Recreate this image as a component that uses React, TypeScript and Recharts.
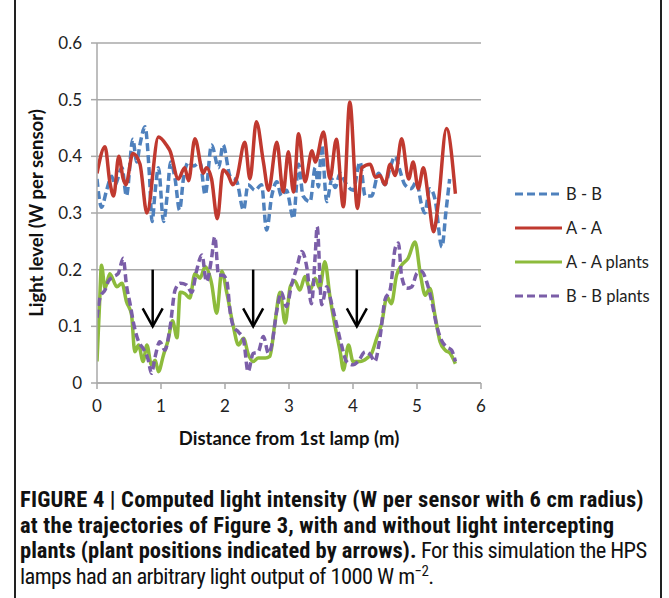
import React from 'react';
import { LineChart, Line, XAxis, YAxis, CartesianGrid, ReferenceLine, Label } from 'recharts';

const xTicks = [0, 1, 2, 3, 4, 5, 6];
const yTicks = [0, 0.1, 0.2, 0.3, 0.4, 0.5, 0.6];
const arrowX = [0.87, 2.44, 4.06];
const arrowTop = 0.2;
const arrowBottom = 0.1;

const bbPoints: number[][] = [
  [0, 0.36], [0.03, 0.33], [0.07, 0.31], [0.15, 0.34], [0.23, 0.365], [0.28, 0.35], [0.39, 0.38], [0.46, 0.33],
  [0.56, 0.43], [0.62, 0.39], [0.67, 0.42], [0.75, 0.452], [0.82, 0.365], [0.86, 0.285], [0.91, 0.34], [0.96, 0.38],
  [1.04, 0.285], [1.1, 0.335], [1.15, 0.39], [1.22, 0.36], [1.29, 0.305], [1.35, 0.36], [1.43, 0.39], [1.51, 0.383],
  [1.61, 0.39], [1.69, 0.332], [1.79, 0.42], [1.9, 0.38], [1.97, 0.42], [2.08, 0.365], [2.18, 0.357], [2.29, 0.305],
  [2.36, 0.35], [2.47, 0.34], [2.57, 0.35], [2.65, 0.27], [2.73, 0.33], [2.81, 0.355], [2.88, 0.33], [2.96, 0.34],
  [3.07, 0.29], [3.15, 0.386], [3.22, 0.33], [3.33, 0.32], [3.41, 0.38], [3.46, 0.346], [3.51, 0.42], [3.59, 0.32],
  [3.67, 0.36], [3.72, 0.345], [3.8, 0.37], [3.9, 0.35], [4.0, 0.34], [4.11, 0.39], [4.19, 0.33], [4.29, 0.33],
  [4.4, 0.37], [4.5, 0.35], [4.58, 0.38], [4.66, 0.4], [4.73, 0.376], [4.81, 0.35], [4.91, 0.343], [4.99, 0.355],
  [5.07, 0.315], [5.12, 0.3], [5.2, 0.343], [5.28, 0.325], [5.39, 0.24], [5.45, 0.3], [5.51, 0.36],
];

const aaPoints: number[][] = [
  [0, 0.37], [0.125, 0.417], [0.2, 0.355], [0.26, 0.33], [0.34, 0.4], [0.41, 0.36], [0.45, 0.35], [0.56, 0.405],
  [0.67, 0.387], [0.78, 0.3], [0.96, 0.434], [1.09, 0.419], [1.14, 0.41], [1.27, 0.36], [1.37, 0.38], [1.43, 0.357],
  [1.53, 0.431], [1.66, 0.37], [1.71, 0.38], [1.79, 0.36], [1.88, 0.29], [1.97, 0.376], [2.05, 0.367], [2.12, 0.35],
  [2.18, 0.36], [2.31, 0.425], [2.39, 0.36], [2.49, 0.461], [2.6, 0.39], [2.68, 0.34], [2.81, 0.425], [2.91, 0.337],
  [2.99, 0.408], [3.07, 0.337], [3.15, 0.44], [3.25, 0.355], [3.36, 0.41], [3.41, 0.39], [3.54, 0.443], [3.64, 0.36],
  [3.74, 0.43], [3.85, 0.311], [3.95, 0.496], [4.07, 0.308], [4.14, 0.38], [4.27, 0.386], [4.35, 0.363], [4.42, 0.366],
  [4.5, 0.35], [4.58, 0.386], [4.66, 0.366], [4.76, 0.431], [4.87, 0.36], [4.94, 0.39], [5.02, 0.343], [5.1, 0.38],
  [5.18, 0.325], [5.26, 0.267], [5.33, 0.315], [5.46, 0.449], [5.6, 0.334],
];

const apPoints: number[][] = [
  [0, 0.038], [0.04, 0.14], [0.07, 0.208], [0.125, 0.167], [0.2, 0.193], [0.31, 0.17], [0.39, 0.176], [0.46, 0.144],
  [0.54, 0.12], [0.59, 0.055], [0.65, 0.067], [0.72, 0.038], [0.78, 0.067], [0.85, 0.032], [0.91, 0.04], [0.96, 0.02],
  [1.04, 0.05], [1.11, 0.075], [1.18, 0.11], [1.25, 0.08], [1.3, 0.16], [1.37, 0.158], [1.45, 0.15], [1.53, 0.193],
  [1.61, 0.185], [1.69, 0.205], [1.79, 0.176], [1.87, 0.123], [1.95, 0.197], [2.03, 0.158], [2.13, 0.1], [2.21, 0.067],
  [2.29, 0.079], [2.36, 0.052], [2.44, 0.038], [2.52, 0.044], [2.63, 0.044], [2.7, 0.047], [2.78, 0.106], [2.86, 0.16],
  [2.94, 0.106], [3.02, 0.17], [3.09, 0.18], [3.17, 0.164], [3.25, 0.188], [3.33, 0.164], [3.41, 0.185], [3.48, 0.167],
  [3.56, 0.214], [3.64, 0.152], [3.72, 0.1], [3.8, 0.055], [3.85, 0.023], [3.93, 0.067], [4.0, 0.038], [4.11, 0.038],
  [4.22, 0.044], [4.29, 0.052], [4.37, 0.079], [4.45, 0.106], [4.53, 0.152], [4.6, 0.14], [4.68, 0.19], [4.76, 0.208],
  [4.86, 0.22], [4.97, 0.249], [5.05, 0.194], [5.13, 0.155], [5.2, 0.167], [5.28, 0.12], [5.36, 0.073], [5.44, 0.058],
  [5.52, 0.052], [5.6, 0.034],
];

const bpPoints: number[][] = [
  [0, 0.115], [0.05, 0.152], [0.125, 0.164], [0.18, 0.18], [0.26, 0.188], [0.33, 0.193], [0.41, 0.22], [0.46, 0.173],
  [0.52, 0.138], [0.57, 0.106], [0.65, 0.073], [0.72, 0.061], [0.8, 0.041], [0.85, 0.017], [0.91, 0.047], [0.98, 0.073],
  [1.06, 0.058], [1.14, 0.097], [1.22, 0.164], [1.3, 0.176], [1.4, 0.173], [1.48, 0.16], [1.56, 0.2], [1.64, 0.226],
  [1.71, 0.179], [1.79, 0.22], [1.84, 0.258], [1.9, 0.19], [1.97, 0.19], [2.03, 0.179], [2.08, 0.126], [2.13, 0.1],
  [2.21, 0.09], [2.29, 0.076], [2.36, 0.02], [2.44, 0.052], [2.52, 0.055], [2.6, 0.082], [2.68, 0.052], [2.73, 0.067],
  [2.81, 0.128], [2.88, 0.16], [2.96, 0.135], [3.04, 0.173], [3.12, 0.203], [3.2, 0.232], [3.28, 0.203], [3.35, 0.14],
  [3.41, 0.226], [3.44, 0.276], [3.51, 0.138], [3.59, 0.17], [3.67, 0.138], [3.75, 0.1], [3.82, 0.067], [3.9, 0.038],
  [4.0, 0.032], [4.08, 0.038], [4.19, 0.055], [4.27, 0.05], [4.34, 0.038], [4.42, 0.079], [4.5, 0.147], [4.58, 0.164],
  [4.66, 0.238], [4.71, 0.247], [4.76, 0.188], [4.84, 0.167], [4.92, 0.17], [5.0, 0.194], [5.07, 0.197], [5.15, 0.179],
  [5.23, 0.144], [5.31, 0.1], [5.38, 0.076], [5.46, 0.064], [5.54, 0.058], [5.6, 0.038],
];

const seriesNames = ['B - B', 'A - A', 'A - A plants', 'B - B plants'];
const seriesPoints = [bbPoints, aaPoints, apPoints, bpPoints];
const seriesColors = ['#4f81bd', '#c0392f', '#8dbb3c', '#7b5ea8'];
const seriesDash = ['8 4', undefined, undefined, '8 4'];

const toData = (pts: number[][]) => pts.map(([x, y]) => ({ x, y }));

const FONT = 'Lato, "Open Sans", sans-serif';
const CAPTION_FONT = '"Liberation Sans Narrow", "Roboto Condensed", Roboto, sans-serif';

const ArrowShape = (props: any) => {
  const { x1, y1, x2, y2 } = props;
  if (x1 == null || y2 == null) return null;
  return (
    <g>
      <line x1={x1} y1={y1} x2={x2} y2={y2} stroke="#000" strokeWidth={2.5} />
      <polyline
        points={`${x2 - 10},${y2 - 18} ${x2},${y2} ${x2 + 10},${y2 - 18}`}
        fill="none"
        stroke="#000"
        strokeWidth={2.5}
      />
    </g>
  );
};

const LegendBox = () => (
  <svg width={150} height={130} style={{ position: 'absolute', left: 510, top: 178 }}>
    {seriesNames.map((name, i) => {
      const y = 16 + i * 34;
      return (
        <g key={name}>
          <line x1={5} y1={y} x2={52} y2={y} stroke={seriesColors[i]} strokeWidth={3} strokeDasharray={seriesDash[i]} />
          <text x={56} y={y + 6} fontFamily={FONT} fontSize={16.5} fill="#222">{name}</text>
        </g>
      );
    })}
  </svg>
);

const boldStyle = { fontWeight: 700, letterSpacing: '0.2px' };
const boldTightStyle = { fontWeight: 700, letterSpacing: '0px' };
const regStyle = { fontWeight: 400, letterSpacing: '-0.6px' };

export default function App() {
  return (
    <div style={{ position: 'absolute', left: 0, top: 0, width: 669, height: 598, background: '#fff', overflow: 'hidden' }}>
      <div style={{ position: 'absolute', left: 14, top: 0, width: 1.5, height: 598, background: '#222' }} />
      <div style={{ position: 'absolute', left: 660, top: 0, width: 1.5, height: 598, background: '#222' }} />
      <div style={{ position: 'absolute', left: 0, top: 0 }}>
        <LineChart width={669} height={470} margin={{ top: 43, right: 188, bottom: 22, left: 27 }}>
          <CartesianGrid horizontal vertical={false} stroke="#a8a8a8" strokeWidth={1.5} />
          <XAxis
            type="number"
            dataKey="x"
            domain={[0, 6]}
            ticks={xTicks}
            tickLine={{ stroke: '#a8a8a8', strokeWidth: 1.5 }}
            axisLine={{ stroke: '#a8a8a8', strokeWidth: 1.5 }}
            tickSize={6}
            tickMargin={11}
            height={65}
            tick={{ fontFamily: FONT, fontSize: 17, fill: '#222' }}
            allowDataOverflow
          >
            <Label value="Distance from 1st lamp (m)" position="insideBottom" offset={3} style={{ fontFamily: FONT, fontSize: 18.5, fontWeight: 700, fill: '#111' }} />
          </XAxis>
          <YAxis
            type="number"
            domain={[0, 0.6]}
            ticks={yTicks}
            tickFormatter={(v: number) => (v === 0 ? '0' : v.toFixed(1))}
            tickLine={{ stroke: '#a8a8a8', strokeWidth: 1.5 }}
            axisLine={{ stroke: '#a8a8a8', strokeWidth: 1.5 }}
            tickSize={6}
            tickMargin={9}
            width={70}
            tick={{ fontFamily: FONT, fontSize: 17, fill: '#222' }}
          >
            <Label value="Light level (W per sensor)" angle={-90} position="insideLeft" offset={0} dx={9} style={{ textAnchor: 'middle', fontFamily: FONT, fontSize: 18.5, fontWeight: 700, fill: '#111' }} />
          </YAxis>
          {seriesNames.map((name, i) => (
            <Line
              key={name}
              data={toData(seriesPoints[i])}
              dataKey="y"
              name={name}
              type="monotone"
              stroke={seriesColors[i]}
              strokeWidth={3.5}
              strokeDasharray={seriesDash[i]}
              dot={false}
              activeDot={false}
              isAnimationActive={false}
            />
          ))}
          {arrowX.map((ax) => (
            <ReferenceLine
              key={ax}
              segment={[{ x: ax, y: arrowTop }, { x: ax, y: arrowBottom }]}
              shape={ArrowShape}
            />
          ))}
        </LineChart>
      </div>
      <LegendBox />
      <div
        style={{
          position: 'absolute',
          left: 20,
          top: 487,
          width: 640,
          fontFamily: CAPTION_FONT,
          fontSize: 22.5,
          lineHeight: '25.7px',
          color: '#111',
          whiteSpace: 'nowrap',
        }}
      >
        <div style={boldStyle}>FIGURE 4 | Computed light intensity (W per sensor with 6 cm radius)</div>
        <div style={boldStyle}>at the trajectories of Figure 3, with and without light intercepting</div>
        <div><span style={boldTightStyle}>plants (plant positions indicated by arrows).</span><span style={regStyle}> For this simulation the HPS</span></div>
        <div style={regStyle}>lamps had an arbitrary light output of 1000 W m<sup style={{ fontSize: 15, lineHeight: 0 }}>−2</sup>.</div>
      </div>
    </div>
  );
}
